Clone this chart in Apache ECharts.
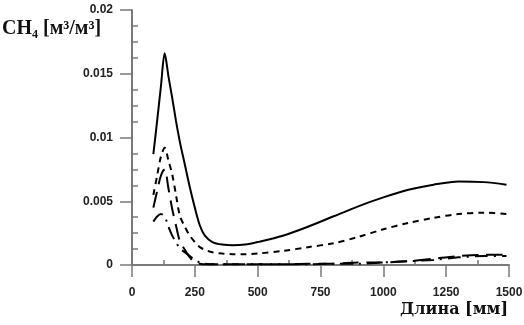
<!DOCTYPE html>
<html>
<head>
<meta charset="utf-8">
<script src="https://cdn.jsdelivr.net/npm/echarts@6/dist/echarts.min.js"></script>
<style>
  html, body { margin: 0; padding: 0; background: #fff; }
  #chart { width: 524px; height: 325px; }
</style>
</head>
<body>
<div id="chart"></div>
<script>
// длина [мм]
const lengthMm = [85, 100, 115, 130, 145, 160, 175, 190, 210, 230, 250, 270, 290, 320, 360, 400, 450, 500, 600, 700, 800, 900, 1000, 1100, 1200, 1300, 1400, 1490];

// CH4 [м3/м3] по кривым
const ch4Solid = [0.0087, 0.0113, 0.0140, 0.0166, 0.0148, 0.0131, 0.0113, 0.0097, 0.0079, 0.0061, 0.0045, 0.0031, 0.0023, 0.0018, 0.0016, 0.00155, 0.0016, 0.0018, 0.0023, 0.0030, 0.0038, 0.0046, 0.0053, 0.0059, 0.0063, 0.00655, 0.0065, 0.0063];
const ch4Short = [0.0055, 0.0070, 0.0085, 0.0092, 0.0082, 0.0071, 0.0055, 0.0039, 0.0030, 0.0023, 0.0018, 0.0014, 0.0012, 0.0010, 0.0009, 0.00085, 0.00085, 0.0009, 0.0011, 0.0014, 0.0017, 0.0022, 0.0028, 0.0033, 0.0037, 0.0040, 0.0041, 0.0040];
const ch4Long = [0.0045, 0.0058, 0.0070, 0.0075, 0.0060, 0.0044, 0.0031, 0.0019, 0.0012, 0.0006, 0.0002, 0.0001, 0.00005, 0.00005, 0.00005, 0.00005, 0.00005, 0.00005, 0.00005, 0.0001, 0.0001, 0.0002, 0.0002, 0.0003, 0.0005, 0.0007, 0.0008, 0.0008];
const ch4DashDot = [0.0034, 0.0038, 0.0040, 0.0038, 0.0030, 0.0023, 0.0018, 0.0013, 0.0010, 0.0007, 0.0004, 0.0002, 0.0001, 0.00005, 0.00005, 0.00005, 0.00005, 0.00005, 0.00005, 0.00005, 0.0001, 0.0001, 0.0002, 0.0003, 0.0004, 0.0006, 0.0007, 0.0007];

const xTicks = { min: 0, max: 1500, interval: 250 };
const yTicks = { min: 0, max: 0.02, interval: 0.005 };

const yTitle = 'CH₄ [м³/м³]';
const xTitle = 'Длина [мм]';

const axisGray = '#7a7a7a';
const labelFont = { fontFamily: 'Liberation Sans', fontWeight: 'bold', fontSize: 12, color: '#222' };

const gridBox = { left: 132, right: 15, top: 10, bottom: 60, outerBoundsMode: 'none' };

function pairs(ys) {
  return lengthMm.map((x, i) => [x, ys[i]]);
}

function curve(name, ys, type) {
  return {
    name,
    type: 'line',
    xAxisIndex: 0,
    yAxisIndex: 0,
    data: pairs(ys),
    smooth: 0.3,
    symbol: 'none',
    lineStyle: { color: '#000', width: 2, type },
  };
}

const chart = echarts.init(document.getElementById('chart'));
chart.setOption({
  animation: false,
  backgroundColor: '#fff',
  grid: [gridBox, gridBox],
  xAxis: [
    {
      type: 'value', gridIndex: 0, ...xTicks,
      axisLine: { show: true, onZero: false, lineStyle: { color: axisGray, width: 2 } },
      axisTick: { show: true, length: 12, lineStyle: { color: axisGray, width: 1.5 } },
      axisLabel: { ...labelFont, margin: 22, formatter: v => String(v) },
      splitLine: { show: false },
    },
    {
      type: 'value', gridIndex: 1, ...xTicks,
      axisLine: { show: false },
      axisTick: { show: false, inside: true },
      minorTick: { show: true, splitNumber: 2, length: 5, lineStyle: { color: axisGray, width: 1.5 } },
      axisLabel: { show: false },
      splitLine: { show: false },
    },
  ],
  yAxis: [
    {
      type: 'value', gridIndex: 0, ...yTicks,
      axisLine: { show: true, onZero: false, lineStyle: { color: axisGray, width: 2 } },
      axisTick: { show: true, length: 12, lineStyle: { color: axisGray, width: 1.5 } },
      axisLabel: { ...labelFont, margin: 19 },
      splitLine: { show: false },
    },
    {
      type: 'value', gridIndex: 1, ...yTicks,
      axisLine: { show: false },
      axisTick: { show: false, inside: true },
      minorTick: { show: true, splitNumber: 4, length: 6, lineStyle: { color: axisGray, width: 1.5 } },
      axisLabel: { show: false },
      splitLine: { show: false },
    },
  ],
  graphic: [
    {
      type: 'text', left: 2, top: 19,
      style: { text: yTitle, fontFamily: 'Liberation Serif', fontWeight: 'bold', fontSize: 20, fill: '#111' },
    },
    {
      type: 'text', right: 16, top: 302,
      style: { text: xTitle, fontFamily: 'DejaVu Serif', fontWeight: 'bold', fontSize: 16, fill: '#111' },
    },
  ],
  series: [
    curve('solid', ch4Solid, 'solid'),
    curve('short', ch4Short, [6, 5]),
    curve('long', ch4Long, [16, 8]),
    curve('dashdot', ch4DashDot, [13, 6, 2, 6]),
  ],
});
</script>
</body>
</html>
